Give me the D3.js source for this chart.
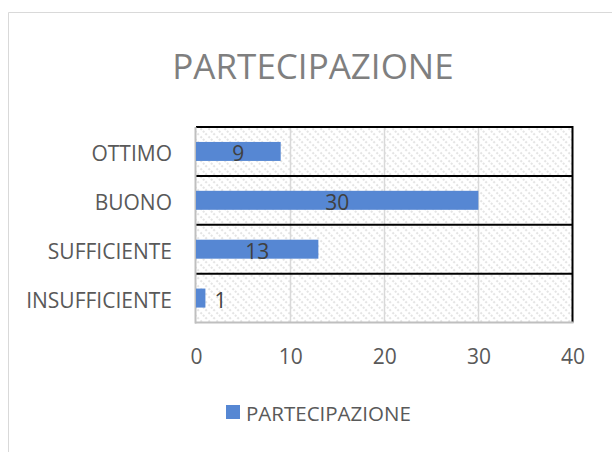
<!DOCTYPE html>
<html>
<head>
<meta charset="utf-8">
<script src="https://cdn.jsdelivr.net/npm/d3@7"></script>
<style>
    body { margin: 0; background: #fff; }
    text { font-family: "Open Sans", sans-serif; }
</style>
</head>
<body>
<div id="chart"></div>
<script>
const WIDTH = 612;
const HEIGHT = 452;

const titolo = "PARTECIPAZIONE";
const categorie = ["OTTIMO", "BUONO", "SUFFICIENTE", "INSUFFICIENTE"];
const valori = [9, 30, 13, 1];
const tickValori = [0, 10, 20, 30, 40];
const serie = "PARTECIPAZIONE";

function setup(){
    let svg = d3.select("#chart")
        .append("svg")
        .attr("width",WIDTH)
        .attr("height",HEIGHT);

    // hatch fill of the plot area
    let pattern = svg.append("defs")
        .append("pattern")
        .attr("id","hatch")
        .attr("patternUnits","userSpaceOnUse")
        .attr("width",8)
        .attr("height",8);
    pattern.append("rect").attr("width",8).attr("height",8).attr("fill","#fff");
    pattern.append("path")
        .attr("d","M-2,-2 L10,10 M-2,6 L2,10 M6,-2 L10,2")
        .attr("stroke","#e4e4e4")
        .attr("stroke-width",2)
        .attr("stroke-dasharray","2,1.5");

    // chart frame
    svg.append("path")
        .attr("d","M8.5,452 L8.5,12.5 L612,12.5")
        .attr("fill","none")
        .attr("stroke","#d9d9d9");

    svg.append("text")
        .attr("x",313)
        .attr("y",79)
        .attr("text-anchor","middle")
        .style("font-size","35px")
        .style("fill","#7f7f7f")
        .text(titolo);

    let left = 196, right = 572.5, top = 127, bottom = 322.5;

    let x = d3.scaleLinear()
        .domain([tickValori[0],tickValori[tickValori.length-1]])
        .range([left,right]);
    let y = d3.scaleBand()
        .domain(categorie)
        .range([top,bottom])
        .paddingInner(0)
        .paddingOuter(0);

    svg.append("rect")
        .attr("x",left)
        .attr("y",top)
        .attr("width",right-left)
        .attr("height",bottom-top)
        .attr("fill","url(#hatch)");

    // vertical gridlines
    svg.append("g")
        .selectAll("line")
        .data(tickValori.slice(1,-1))
        .enter()
        .append("line")
        .attr("x1",d => Math.round(x(d))+0.5)
        .attr("x2",d => Math.round(x(d))+0.5)
        .attr("y1",top)
        .attr("y2",bottom)
        .attr("stroke","#d9d9d9")
        .attr("stroke-width",1.5);

    // category separators (black)
    svg.append("g")
        .selectAll("line")
        .data(categorie)
        .enter()
        .append("line")
        .attr("x1",left)
        .attr("x2",right)
        .attr("y1",d => y(d))
        .attr("y2",d => y(d))
        .attr("stroke","#000")
        .attr("stroke-width",2);

    svg.append("line")
        .attr("x1",right).attr("x2",right)
        .attr("y1",top-1).attr("y2",bottom)
        .attr("stroke","#000")
        .attr("stroke-width",2);

    // axis lines
    svg.append("line")
        .attr("x1",left-0.5).attr("x2",left-0.5)
        .attr("y1",top).attr("y2",bottom+1)
        .attr("stroke","#bfbfbf")
        .attr("stroke-width",2);
    svg.append("line")
        .attr("x1",left-1).attr("x2",right+1)
        .attr("y1",bottom).attr("y2",bottom)
        .attr("stroke","#bfbfbf")
        .attr("stroke-width",2);

    let barH = 19;
    svg.append("g")
        .selectAll(".bar")
        .data(valori)
        .enter()
        .append("rect")
        .attr("class","bar")
        .attr("x",x(0))
        .attr("y",(d,i) => y(categorie[i]) + y.bandwidth()/2 - barH/2)
        .attr("width",d => x(d)-x(0))
        .attr("height",barH)
        .attr("fill","#5687d3");

    // data labels
    svg.append("g")
        .selectAll("text")
        .data(valori)
        .enter()
        .append("text")
        .attr("x",d => (x(d)-x(0) < 20) ? x(d)+9 : (x(0)+x(d))/2)
        .attr("y",(d,i) => y(categorie[i]) + y.bandwidth()/2 + 10)
        .attr("text-anchor",d => (x(d)-x(0) < 20) ? "start" : "middle")
        .style("font-size","21px")
        .style("fill","#404040")
        .text(d => d);

    // category labels
    svg.append("g")
        .selectAll("text")
        .data(categorie)
        .enter()
        .append("text")
        .attr("x",172)
        .attr("y",d => y(d) + y.bandwidth()/2 + 10)
        .attr("text-anchor","end")
        .style("font-size","21px")
        .style("fill","#595959")
        .text(d => d);

    // value axis labels
    let xAxis = d3.axisBottom(x)
        .tickValues(tickValori)
        .tickSize(0)
        .tickPadding(0);
    let ax = svg.append("g")
        .attr("transform","translate(0,"+bottom+")")
        .call(xAxis);
    ax.select(".domain").remove();
    ax.selectAll("text")
        .attr("dy",null)
        .attr("y",41)
        .style("font-size","21px")
        .style("font-family","'Open Sans', sans-serif")
        .style("fill","#595959");

    // legend
    svg.append("rect")
        .attr("x",226)
        .attr("y",405)
        .attr("width",14)
        .attr("height",14)
        .attr("fill","#5687d3");
    svg.append("text")
        .attr("x",246)
        .attr("y",421)
        .style("font-size","20.5px")
        .style("fill","#595959")
        .text(serie);
}

window.addEventListener("load",setup);
</script>
</body>
</html>
